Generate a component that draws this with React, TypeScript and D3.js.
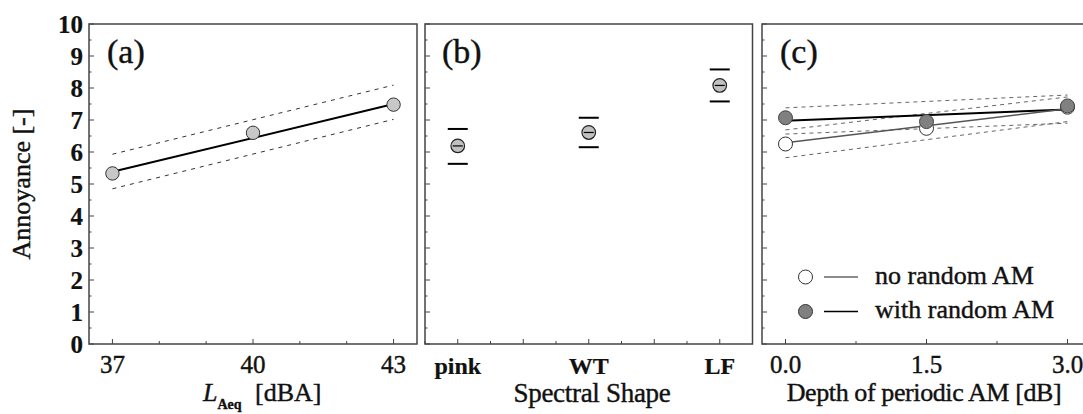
import { useEffect, useRef } from "react";
import { select, scaleLinear, range } from "d3";

// shared y axis
const yTicks = [0, 1, 2, 3, 4, 5, 6, 7, 8, 9, 10];

// (a) level
const laeqLevels = [37, 40, 43];
const laeqMeans = [5.33, 6.6, 7.48];
const laeqFitEnds = [37, 43];
const laeqFit = [5.38, 7.5];
const laeqUpper = [5.93, 8.09];
const laeqLower = [4.85, 7.02];

// (b) spectral shape
const spectralShapes = ["pink", "WT", "LF"];
const spectralMeans = [6.19, 6.61, 8.08];
const spectralUpper = [6.72, 7.07, 8.58];
const spectralLower = [5.63, 6.15, 7.58];

// (c) periodic AM depth
const amDepths = [0, 1.5, 3.0];
const noRandomMeans = [6.25, 6.74, 7.4];
const withRandomMeans = [7.07, 6.95, 7.44];
const amFitEnds = [0, 3.0];
const noRandomFit = [6.29, 7.35];
const noRandomUpper = [6.69, 7.72];
const noRandomLower = [5.82, 6.95];
const withRandomFit = [6.98, 7.33];
const withRandomUpper = [7.38, 7.78];
const withRandomLower = [6.56, 6.9];

const W = 1083;
const H = 414;
const TOP = 24;
const BOTTOM = 344;
const FONT = '"Liberation Serif", "DejaVu Serif", serif';

export default function App() {
  const svgRef = useRef<SVGSVGElement>(null);

  useEffect(() => {
    const svg = select(svgRef.current);
    svg.selectAll("*").remove();

    const y = scaleLinear().domain([0, 10]).range([BOTTOM, TOP]);

    const xa = scaleLinear().domain([36.5, 43.5]).range([89, 417]);
    const xb = scaleLinear().domain([0.75, 3.25]).range([425, 752.5]);
    const xc = scaleLinear().domain([-0.25, 3.25]).range([762, 1091]);

    // frame + inward ticks for one panel
    const frame = (x, major, minor) => {
      const [x0, x1] = x.range();
      const g = svg.append("g");
      g.append("rect")
        .attr("x", x0).attr("y", TOP)
        .attr("width", x1 - x0).attr("height", BOTTOM - TOP)
        .attr("fill", "white")
        .attr("stroke", "#444")
        .attr("stroke-width", 1.5);
      yTicks.forEach(t => {
        g.append("line")
          .attr("x1", x0).attr("x2", x0 + 5)
          .attr("y1", y(t)).attr("y2", y(t))
          .attr("stroke", "#444");
      });
      range(0.5, 10, 1).forEach(t => {
        g.append("line")
          .attr("x1", x0).attr("x2", x0 + 2.5)
          .attr("y1", y(t)).attr("y2", y(t))
          .attr("stroke", "#444");
      });
      major.forEach(t => {
        g.append("line")
          .attr("x1", x(t)).attr("x2", x(t))
          .attr("y1", BOTTOM).attr("y2", BOTTOM - 5)
          .attr("stroke", "#444");
      });
      minor.forEach(t => {
        g.append("line")
          .attr("x1", x(t)).attr("x2", x(t))
          .attr("y1", BOTTOM).attr("y2", BOTTOM - 3)
          .attr("stroke", "#444");
      });
      return g;
    };

    const seg = (g, x, xs, ys, stroke, width, dash?) => {
      const l = g.append("line")
        .attr("x1", x(xs[0])).attr("y1", y(ys[0]))
        .attr("x2", x(xs[1])).attr("y2", y(ys[1]))
        .attr("stroke", stroke)
        .attr("stroke-width", width);
      if (dash) l.attr("stroke-dasharray", dash);
    };

    // the source text is set quite heavy, so give regular text a hairline stroke
    const label = (tx, ty, txt, size, opts: any = {}) => {
      const t = svg.append("text")
        .attr("x", tx).attr("y", ty)
        .style("font-family", FONT)
        .style("font-size", size + "px")
        .style("font-weight", opts.weight || "normal")
        .attr("fill", "#111")
        .attr("stroke", "#111")
        .attr("stroke-width", opts.weight === "bold" ? 0.2 : 0.4)
        .attr("text-anchor", opts.anchor || "start")
        .text(txt);
      if (opts.dy) t.attr("dy", opts.dy);
      return t;
    };

    // ---- panel (a)
    const ga = frame(xa, laeqLevels, [38, 39, 41, 42]);
    seg(ga, xa, laeqFitEnds, laeqUpper, "#333", 1, "4,5");
    seg(ga, xa, laeqFitEnds, laeqLower, "#333", 1, "4,5");
    seg(ga, xa, laeqFitEnds, laeqFit, "#000", 2);
    laeqLevels.forEach((lv, i) => {
      ga.append("circle")
        .attr("cx", xa(lv)).attr("cy", y(laeqMeans[i]))
        .attr("r", 6.7)
        .attr("fill", "#c8c8c8")
        .attr("stroke", "#333")
        .attr("stroke-width", 1);
    });

    // ---- panel (b)
    const gb = frame(xb, [1, 1.5, 2, 2.5, 3], [0.75, 1.25, 1.75, 2.25, 2.75, 3.25]);
    spectralShapes.forEach((s, i) => {
      const cx = xb(i + 1);
      [spectralUpper[i], spectralLower[i]].forEach(v => {
        gb.append("line")
          .attr("x1", cx - 10).attr("x2", cx + 10)
          .attr("y1", y(v)).attr("y2", y(v))
          .attr("stroke", "#000")
          .attr("stroke-width", 2);
      });
      gb.append("circle")
        .attr("cx", cx).attr("cy", y(spectralMeans[i]))
        .attr("r", 6.8)
        .attr("fill", "#c0c0c0")
        .attr("stroke", "#222")
        .attr("stroke-width", 1.2);
      gb.append("line")
        .attr("x1", cx - 5).attr("x2", cx + 5)
        .attr("y1", y(spectralMeans[i])).attr("y2", y(spectralMeans[i]))
        .attr("stroke", "#000")
        .attr("stroke-width", 1.2);
    });

    // ---- panel (c)
    const gc = frame(xc, amDepths, [0.75, 2.25]);
    seg(gc, xc, amFitEnds, withRandomUpper, "#666", 1, "4,4");
    seg(gc, xc, amFitEnds, withRandomLower, "#666", 1, "4,4");
    seg(gc, xc, amFitEnds, noRandomUpper, "#666", 1, "4,4");
    seg(gc, xc, amFitEnds, noRandomLower, "#666", 1, "4,4");
    seg(gc, xc, amFitEnds, withRandomFit, "#000", 2);
    seg(gc, xc, amFitEnds, noRandomFit, "#555", 1.5);
    amDepths.forEach((d, i) => {
      gc.append("circle")
        .attr("cx", xc(d)).attr("cy", y(noRandomMeans[i]))
        .attr("r", 7)
        .attr("fill", "white")
        .attr("stroke", "#333")
        .attr("stroke-width", 1);
    });
    amDepths.forEach((d, i) => {
      gc.append("circle")
        .attr("cx", xc(d)).attr("cy", y(withRandomMeans[i]))
        .attr("r", 7)
        .attr("fill", "#808080")
        .attr("stroke", "#444")
        .attr("stroke-width", 1);
    });

    // legend
    const legend = [
      { name: "no random AM", fill: "white", line: "#666", ly: 277 },
      { name: "with random AM", fill: "#808080", line: "#000", ly: 311.5 },
    ];
    legend.forEach(item => {
      svg.append("circle")
        .attr("cx", 805.5).attr("cy", item.ly).attr("r", 7)
        .attr("fill", item.fill).attr("stroke", "#333");
      svg.append("line")
        .attr("x1", 824).attr("x2", 858)
        .attr("y1", item.ly).attr("y2", item.ly)
        .attr("stroke", item.line).attr("stroke-width", 1.5);
      label(875, item.ly + 6.5, item.name, 26);
    });

    // panel letters
    label(107, 63, "(a)", 34);
    label(442, 63, "(b)", 34);
    label(780, 63, "(c)", 34);

    // y tick labels
    yTicks.forEach(t => {
      label(83, y(t), String(t), 25, { anchor: "end", weight: "bold", dy: "0.34em" });
    });
    label(0, 0, "Annoyance [-]", 26, { anchor: "middle" })
      .attr("transform", `translate(30,${(TOP + BOTTOM) / 2}) rotate(-90)`);

    // x tick labels
    laeqLevels.forEach(lv => label(xa(lv), 373, String(lv), 25, { anchor: "middle" }));
    spectralShapes.forEach((s, i) => label(xb(i + 1), 374, s, 24, { anchor: "middle", weight: "bold" }));
    amDepths.forEach(d => label(xc(d), 373, d.toFixed(1), 25, { anchor: "middle" }));

    // x titles
    const ta = label(203, 401, "", 26);
    ta.append("tspan").style("font-style", "italic").text("L");
    ta.append("tspan").style("font-size", "14px").style("font-weight", "bold").attr("dy", 8).text("Aeq");
    ta.append("tspan").attr("dy", -8).attr("x", 255).text("[dBA]");

    label(592, 402, "Spectral Shape", 27, { anchor: "middle" })
      .style("letter-spacing", "-0.3px");
    label(924, 401, "Depth of periodic AM [dB]", 26, { anchor: "middle" })
      .style("letter-spacing", "-0.4px");
  }, []);

  return (
    <svg
      ref={svgRef}
      width={W}
      height={H}
      viewBox={`0 0 ${W} ${H}`}
      style={{ position: "absolute", left: 0, top: 0, background: "white" }}
    />
  );
}
